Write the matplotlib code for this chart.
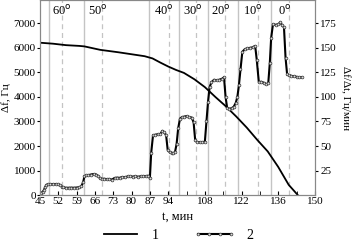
# Frequency shift and its rate vs time, temperature steps marked
import numpy as np
import matplotlib
matplotlib.use('Agg')
import matplotlib.pyplot as plt

plt.rcParams['font.family'] = ['Liberation Serif', 'DejaVu Serif']
plt.rcParams['font.size'] = 8

# Curve 1: delta f, Hz (left axis)
t1 = [45, 50, 55, 60, 62, 65, 68, 75, 80, 85, 88, 91, 94, 97, 100, 104,
      108, 112, 116, 120, 124, 128, 132, 136, 140, 143.5]
df1 = [6210, 6170, 6110, 6080, 6060, 5990, 5920, 5820, 5740, 5660, 5570,
       5400, 5240, 5100, 4980, 4720, 4400, 4000, 3620, 3200, 2750, 2250,
       1780, 1150, 420, 0]

# Curve 2: df/dt, Hz/min (right axis)
t2 = [45, 45.5, 46, 46.5, 47, 47.5, 48, 49, 50, 51, 52, 52.8, 53.5, 54, 55,
      56, 57, 58, 59, 60, 60.8, 61.5, 62, 62.5, 63.5, 64.5, 65.5, 66.5, 67.3,
      68, 68.7, 69.5, 70.5, 71.5, 72.5, 73.5, 74.5, 75.5, 76.5, 77.5, 78.5,
      79.5, 80.5, 81.5, 82.5, 83.5, 84.5, 85.5, 86.3, 87, 87.5, 88.2, 89, 90,
      91, 91.8, 92.5, 93.2, 93.8, 94.5, 95.3, 96, 96.6, 97.2, 97.8, 98.5,
      99.3, 100.2, 101, 102, 103, 103.7, 104.3, 105, 106, 107, 108, 108.6,
      109.2, 109.8, 110.5, 111.5, 112.5, 113.5, 114.5, 115.3, 115.9, 116.5,
      117.3, 118.2, 119, 119.8, 120.4, 121, 121.6, 122.3, 123.2, 124.2,
      125.2, 126.2, 127.2, 127.8, 128.6, 129.5, 130.5, 131.5, 132.2, 132.8,
      133.3, 134, 135, 136, 136.8, 137.5, 138.2, 138.8, 139.4, 140, 141, 142,
      143, 144, 145]
rate2 = [2, 2.5, 3, 5, 8, 10.5, 11, 11.2, 11.2, 11.3, 11, 10, 8.5, 7.8, 7.5,
         7.5, 7.6, 7.5, 7.7, 8, 9, 13, 19, 20, 20.3, 21, 21.5, 21, 19.5,
         17, 16.5, 16.7, 16.3, 16.5, 15.8, 17.5, 17.8, 17.6, 18.5, 18.3, 19,
         19.2, 18.8, 19.3, 18.7, 19.2, 19.5, 19.3, 19.8, 17.5, 43, 61, 61.5, 62,
         62.3, 65.5, 64, 61, 46, 44, 43, 42.5, 44, 52, 68, 78,
         79.5, 80, 80.5, 79.5, 79, 74, 56, 54, 54, 53.8, 54.5, 75,
         95, 110, 115, 117.5, 117, 117.5, 118.5, 120, 100, 89,
         88, 88.5, 90, 94, 100, 112, 128, 146, 148.5, 149.5,
         150, 150.5, 152, 138, 115, 115.5, 114.5, 113, 114, 135,
         160, 174, 173.5, 174, 176, 173, 171, 140, 123, 122, 121.5, 121,
         120.5, 120, 120]

# Temperature step markers
solid_t = [48.3, 61.8, 86.6, 98.0, 109.3, 120.5, 133.3]
dashed_t = [53.6, 68.6, 94.3, 104.5, 115.6, 128.4, 140.0]
temp_labels = ['60', '50', '40', '30', '20', '10', '0']
temp_x = [49.5, 63.5, 88.5, 99.5, 110.5, 122.5, 136.0]

xticks = [45, 52, 59, 66, 73, 80, 87, 94, 108, 122, 136, 150]
minor_x = [101, 115, 129, 143]

fig = plt.figure(figsize=(3.53, 2.47), dpi=100)
ax = fig.add_axes([0.113, 0.21, 0.779, 0.79])
ax2 = ax.twinx()

for x in solid_t:
    ax.axvline(x, color='#c4c4c4', lw=1.0, zorder=0)
for x in dashed_t:
    ax.axvline(x, color='#c4c4c4', lw=0.9, ls=(0, (4, 3)), zorder=0)

for x, s in zip(temp_x, temp_labels):
    ax.text(x, 7500, s + r'$^{\rm o}$', fontsize=9, ha='left', va='center')

l1, = ax.plot(t1, df1, color='black', lw=1.3, label='1')
l2, = ax2.plot(t2, rate2, color='black', lw=1.5, marker='o', ms=2.0,
               mfc='#dddddd', mec='#333333', mew=0.5, label='2')

ax.set_xlim(45, 150)
ax.set_ylim(0, 7950)
ax2.set_ylim(0, 7950 / 40)
ax.set_xticks(xticks)
ax.set_xticks(minor_x, minor=True)
ax.set_yticks([0, 1000, 2000, 3000, 4000, 5000, 6000, 7000])
ax2.set_yticks([25, 50, 75, 100, 125, 150, 175])
ax.tick_params(axis='x', which='both', direction='in', length=3, pad=1)
ax.tick_params(axis='y', direction='out', length=2, pad=1)
ax2.tick_params(axis='y', direction='out', length=2, pad=2)

for sp in list(ax.spines.values()) + list(ax2.spines.values()):
    sp.set_color('#888888')
    sp.set_linewidth(0.8)

ax.set_ylabel('Δf, Гц', labelpad=2)
ax2.set_ylabel('Δf/Δt, Гц/мин', rotation=270, labelpad=10)
ax.set_xlabel('t, мин', labelpad=4, fontsize=9)

fig.legend([l1, l2], ['1', '2'], loc='lower center', ncol=2, frameon=False,
           bbox_to_anchor=(0.5, -0.03), numpoints=4, handlelength=3.0,
           columnspacing=2.5, fontsize=10)

fig.savefig('out.png', dpi=100)
